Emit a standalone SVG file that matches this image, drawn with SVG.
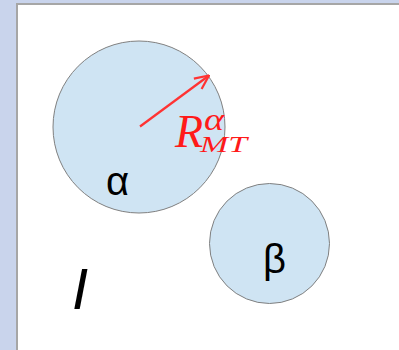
<svg xmlns="http://www.w3.org/2000/svg" width="399" height="350" viewBox="0 0 399 350">
<defs>
<style>
.c{fill:#cfe4f3;stroke:#808080;stroke-width:1}
.g{font-family:"Liberation Sans","DejaVu Sans",sans-serif;fill:#000}
.r{font-family:"Liberation Serif","DejaVu Serif",serif;font-style:italic;fill:#ff1a1a}
</style>
<marker id="ah" viewBox="0 0 16 16" refX="15" refY="8" markerWidth="16" markerHeight="16" markerUnits="userSpaceOnUse" orient="auto">
<path d="M1,1.5 L15,8 L1,14.5" fill="none" stroke="#ff3333" stroke-width="2.2"/>
</marker>
</defs>
<rect x="0" y="0" width="399" height="350" fill="#c9d4ec"/>
<rect x="17" y="4" width="390" height="360" fill="#fff" stroke="#a6a6a6" stroke-width="2"/>
<g id="alpha">
<circle class="c" cx="139" cy="127" r="86"/>
<text class="g" x="106" y="195" font-size="40">α</text>
</g>
<g id="beta">
<circle class="c" cx="269.5" cy="243.5" r="60"/>
<text class="g" x="263" y="273" font-size="40">β</text>
</g>
<g id="connectors">
<line x1="140" y1="126.5" x2="209" y2="75.5" stroke="#ff3333" stroke-width="2.2" marker-end="url(#ah)"/>
</g>
<g id="label">
<text class="r" x="175" y="147" font-size="46">R</text>
<text class="r" x="204" y="129.5" font-size="31" textLength="20" lengthAdjust="spacingAndGlyphs">α</text>
<text class="r" x="200" y="152" font-size="23.5" textLength="47" lengthAdjust="spacingAndGlyphs">MT</text>
</g>
<text x="72" y="309" font-size="58" font-style="italic" class="g">I</text>
</svg>
